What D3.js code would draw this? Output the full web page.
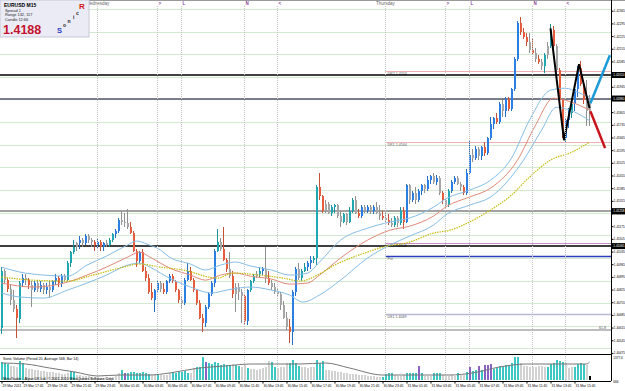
<!DOCTYPE html>
<html>
<head>
<meta charset="utf-8">
<script src="https://cdn.jsdelivr.net/npm/d3@7/dist/d3.min.js"></script>
<style>
body { margin: 0; background: #fff; }
svg { display: block; font-family: "Liberation Sans", Arial, sans-serif; }
</style>
</head>
<body>
<script>
var width = 625;
var height = 391;

// EURUSD M15 candles, one row per bar: [open, high, low, close]
var candles = [
[1.4061,1.4095,1.4058,1.4093],[1.4093,1.4094,1.4086,1.4088],[1.4088,1.4089,1.4081,1.4083],[1.4083,1.4085,1.4074,1.4077],[1.4077,1.4082,1.4070,1.4072],
[1.4072,1.4074,1.4056,1.4067],[1.4066,1.4087,1.4064,1.4086],[1.4086,1.4091,1.4084,1.4089],[1.4089,1.4091,1.4085,1.4088],[1.4088,1.4089,1.4083,1.4085],
[1.4085,1.4087,1.4073,1.4082],[1.4082,1.4087,1.4081,1.4086],[1.4086,1.4088,1.4081,1.4083],[1.4083,1.4087,1.4081,1.4085],[1.4085,1.4086,1.4080,1.4082],
[1.4082,1.4086,1.4080,1.4084],[1.4084,1.4088,1.4078,1.4082],[1.4082,1.4088,1.4081,1.4087],[1.4087,1.4091,1.4085,1.4089],[1.4089,1.4090,1.4084,1.4086],
[1.4086,1.4091,1.4084,1.4090],[1.4090,1.4091,1.4087,1.4088],[1.4088,1.4098,1.4087,1.4097],[1.4097,1.4104,1.4095,1.4103],[1.4103,1.4110,1.4102,1.4106],
[1.4106,1.4109,1.4104,1.4108],[1.4108,1.4112,1.4105,1.4110],[1.4110,1.4111,1.4106,1.4108],[1.4108,1.4113,1.4107,1.4112],[1.4112,1.4113,1.4108,1.4110],
[1.4110,1.4111,1.4106,1.4109],[1.4109,1.4110,1.4104,1.4107],[1.4107,1.4111,1.4105,1.4109],[1.4109,1.4110,1.4104,1.4106],[1.4106,1.4109,1.4104,1.4108],
[1.4108,1.4110,1.4106,1.4107],[1.4107,1.4111,1.4106,1.4110],[1.4110,1.4114,1.4109,1.4113],[1.4113,1.4116,1.4111,1.4115],[1.4115,1.4122,1.4114,1.4121],
[1.4121,1.4126,1.4118,1.4120],[1.4120,1.4125,1.4117,1.4119],[1.4119,1.4127,1.4116,1.4117],[1.4117,1.4120,1.4113,1.4114],[1.4114,1.4115,1.4103,1.4104],
[1.4104,1.4105,1.4095,1.4098],[1.4098,1.4104,1.4097,1.4103],[1.4103,1.4105,1.4092,1.4093],[1.4093,1.4095,1.4087,1.4089],[1.4089,1.4091,1.4080,1.4081],
[1.4081,1.4086,1.4077,1.4078],[1.4077,1.4083,1.4070,1.4082],[1.4082,1.4087,1.4081,1.4086],[1.4086,1.4087,1.4081,1.4083],[1.4083,1.4086,1.4080,1.4081],
[1.4081,1.4088,1.4080,1.4087],[1.4087,1.4091,1.4086,1.4090],[1.4090,1.4091,1.4086,1.4087],[1.4087,1.4088,1.4081,1.4082],[1.4082,1.4083,1.4075,1.4077],
[1.4077,1.4079,1.4072,1.4075],[1.4075,1.4089,1.4074,1.4088],[1.4088,1.4097,1.4087,1.4093],[1.4093,1.4095,1.4087,1.4088],[1.4088,1.4089,1.4081,1.4082],
[1.4082,1.4083,1.4074,1.4075],[1.4075,1.4077,1.4066,1.4067],[1.4067,1.4069,1.4059,1.4064],[1.4064,1.4074,1.4062,1.4073],[1.4073,1.4081,1.4072,1.4080],
[1.4080,1.4087,1.4079,1.4086],[1.4086,1.4105,1.4084,1.4104],[1.4104,1.4116,1.4103,1.4109],[1.4109,1.4111,1.4104,1.4105],[1.4105,1.4117,1.4098,1.4099],
[1.4099,1.4100,1.4092,1.4094],[1.4094,1.4103,1.4089,1.4090],[1.4090,1.4093,1.4078,1.4080],[1.4080,1.4086,1.4070,1.4084],[1.4084,1.4086,1.4077,1.4081],
[1.4081,1.4083,1.4064,1.4079],[1.4079,1.4080,1.4063,1.4065],[1.4065,1.4083,1.4063,1.4082],[1.4082,1.4088,1.4081,1.4087],[1.4087,1.4091,1.4086,1.4090],
[1.4090,1.4093,1.4089,1.4091],[1.4091,1.4095,1.4089,1.4093],[1.4093,1.4095,1.4090,1.4094],[1.4094,1.4106,1.4086,1.4089],[1.4089,1.4093,1.4085,1.4086],
[1.4086,1.4088,1.4082,1.4084],[1.4084,1.4086,1.4080,1.4081],[1.4081,1.4083,1.4079,1.4080],[1.4080,1.4081,1.4071,1.4074],[1.4074,1.4076,1.4066,1.4067],
[1.4067,1.4070,1.4060,1.4062],[1.4062,1.4066,1.4053,1.4059],[1.4059,1.4082,1.4052,1.4081],[1.4081,1.4095,1.4079,1.4094],[1.4094,1.4097,1.4088,1.4089],
[1.4089,1.4094,1.4087,1.4093],[1.4093,1.4097,1.4092,1.4095],[1.4095,1.4098,1.4093,1.4097],[1.4097,1.4101,1.4094,1.4099],[1.4099,1.4101,1.4097,1.4100],
[1.4100,1.4140,1.4096,1.4139],[1.4139,1.4147,1.4132,1.4134],[1.4134,1.4135,1.4125,1.4126],[1.4126,1.4132,1.4125,1.4130],[1.4130,1.4131,1.4124,1.4125],
[1.4125,1.4129,1.4123,1.4128],[1.4128,1.4130,1.4125,1.4129],[1.4129,1.4130,1.4122,1.4123],[1.4123,1.4126,1.4117,1.4120],[1.4120,1.4125,1.4119,1.4124],
[1.4124,1.4125,1.4118,1.4120],[1.4120,1.4128,1.4119,1.4126],[1.4126,1.4133,1.4125,1.4132],[1.4132,1.4134,1.4124,1.4125],[1.4125,1.4127,1.4122,1.4123],
[1.4123,1.4129,1.4122,1.4128],[1.4128,1.4129,1.4125,1.4126],[1.4126,1.4129,1.4125,1.4128],[1.4128,1.4129,1.4124,1.4126],[1.4126,1.4129,1.4124,1.4128],
[1.4128,1.4131,1.4124,1.4125],[1.4125,1.4129,1.4121,1.4123],[1.4123,1.4126,1.4121,1.4122],[1.4122,1.4125,1.4120,1.4121],[1.4121,1.4124,1.4118,1.4119],
[1.4119,1.4122,1.4117,1.4118],[1.4118,1.4123,1.4117,1.4122],[1.4122,1.4123,1.4117,1.4119],[1.4119,1.4128,1.4118,1.4126],[1.4126,1.4128,1.4116,1.4120],
[1.4120,1.4141,1.4119,1.4140],[1.4140,1.4141,1.4130,1.4132],[1.4132,1.4137,1.4131,1.4136],[1.4136,1.4139,1.4130,1.4132],[1.4132,1.4138,1.4131,1.4137],
[1.4137,1.4141,1.4135,1.4140],[1.4140,1.4141,1.4136,1.4138],[1.4138,1.4145,1.4137,1.4143],[1.4143,1.4146,1.4141,1.4145],[1.4145,1.4147,1.4141,1.4142],
[1.4142,1.4146,1.4140,1.4144],[1.4144,1.4145,1.4135,1.4136],[1.4136,1.4137,1.4130,1.4132],[1.4132,1.4133,1.4127,1.4129],[1.4129,1.4138,1.4128,1.4137],
[1.4137,1.4143,1.4136,1.4142],[1.4142,1.4145,1.4141,1.4144],[1.4144,1.4145,1.4140,1.4141],[1.4141,1.4142,1.4137,1.4139],[1.4139,1.4140,1.4135,1.4136],
[1.4136,1.4149,1.4135,1.4147],[1.4147,1.4165,1.4146,1.4157],[1.4157,1.4160,1.4153,1.4155],[1.4155,1.4162,1.4154,1.4160],[1.4160,1.4161,1.4154,1.4156],
[1.4156,1.4162,1.4154,1.4161],[1.4161,1.4164,1.4156,1.4158],[1.4158,1.4167,1.4157,1.4166],[1.4166,1.4178,1.4165,1.4174],[1.4174,1.4178,1.4171,1.4177],
[1.4177,1.4180,1.4174,1.4175],[1.4175,1.4186,1.4174,1.4185],[1.4185,1.4187,1.4178,1.4181],[1.4181,1.4189,1.4178,1.4188],[1.4188,1.4189,1.4181,1.4182],
[1.4182,1.4194,1.4181,1.4193],[1.4193,1.4211,1.4192,1.4210],[1.4210,1.4231,1.4209,1.4230],[1.4230,1.4233,1.4223,1.4225],[1.4225,1.4227,1.4221,1.4222],
[1.4222,1.4224,1.4217,1.4219],[1.4219,1.4224,1.4213,1.4215],[1.4215,1.4221,1.4212,1.4213],[1.4213,1.4216,1.4208,1.4210],[1.4210,1.4212,1.4207,1.4208],
[1.4208,1.4210,1.4204,1.4206],[1.4206,1.4213,1.4202,1.4212],[1.4212,1.4219,1.4210,1.4217],[1.4217,1.4229,1.4216,1.4226],[1.4226,1.4228,1.4216,1.4217],
[1.4217,1.4218,1.4203,1.4204],[1.4204,1.4205,1.4186,1.4187],[1.4187,1.4188,1.4166,1.4168],[1.4166,1.4177,1.4164,1.4176],[1.4176,1.4183,1.4172,1.4182],
[1.4180,1.4186,1.4177,1.4185],[1.4185,1.4194,1.4181,1.4193],[1.4193,1.4206,1.4189,1.4205],[1.4205,1.4209,1.4195,1.4196],[1.4196,1.4198,1.4185,1.4187],
[1.4187,1.4198,1.4173,1.4181],[1.4181,1.4190,1.4173,1.4188]
];
// candle colour class per bar: t teal, b blue, r red, g grey
var candleKind = "tgrggrtbgrgbgbgbgbbrbgtttgbgbggrbrbgttbbgggrrrbrrrrbbgrbbrrrgbbrrrrrbbbbtgrrgrgggrbttgtbgrggggggrbbgttbbttrrggttggtgttgrbgbgbggrgrgtgtrbgbgbbgbbgbgrgtbbggrbbgbgbrbbbrbgbrbbbrrrgrgrgtgtrgrrbbtbbrrgg";

// Sonic volume per bar and its colour class: t above average, g below, p climax
var volumes = [
1030,980,900,820,780,740,1100,1000,700,660, 640,600,580,540,520,480,470,440,420,390,
370,340,380,540,480,300,280,250,230,210, 190,170,150,130,120,150,170,200,230,380,
600,420,400,440,470,430,400,450,420,330, 310,360,300,280,260,270,420,450,430,480,
460,520,380,420,700,760,720,1340,1020,960, 900,1050,980,850,900,860,800,920,860,780,
760,850,700,650,620,600,640,680,720,1090, 1040,760,700,720,740,980,1000,1150,950,780,
760,720,700,740,760,1160,1000,1100,600,560, 520,500,470,440,420,400,370,350,330,310,
290,280,250,230,210,200,190,170,360,380, 400,260,240,250,270,420,400,380,410,800,
390,250,230,220,400,420,380,260,240,250, 260,240,420,300,280,440,760,520,550,820,
560,840,880,900,620,700,820,760,880,800, 950,1330,1300,1000,820,780,760,740,720,800,
780,740,760,900,1000,1150,1080,1040,1000,700, 760,740,900,950,900,880,250
];
var volumeKind = "tttgggttgggggggggggggggttgggggggggggggggtpttttttttggtggggttttttggtttpttttttttgttggtgggggggttggggttttgggggtttgggggggggggggggggggttttggggttttptgggtttgggggtggtpttptppptttttttttgggggggggttttttgggttttg";
// volume average line: [bar, volume]
var volumeAvg = [[0,976],[8,918],[16,689],[24.5,459],[32,230],[39.5,287],[49.5,287],[56,402],[66,689],[74.5,804],[83,918],[91,918],[99.5,918],[108,976],[116,689],[127,287],[136,287],[149.5,287],[157,402],[166,746],[175,918],[186,918],[195,918],[196,1033]];

// price channel lines: [bar, price]
var upperBand = [[0,1.40949],[6,1.40922],[14,1.40905],[22,1.40899],[28.5,1.40960],[35,1.41010],[42,1.41071],[45,1.41093],[48.5,1.41076],[53,1.41043],[56,1.41004],[63,1.40966],[68,1.40933],[73,1.40960],[78,1.40977],[83,1.40955],[90,1.40933],[96,1.40905],[102,1.40916],[106,1.40977],[113,1.41098],[122,1.41164],[129.5,1.41198],[136,1.41220],[144,1.41280],[148.5,1.41330],[156,1.41374],[163,1.41429],[170,1.41551],[176,1.41761],[183,1.41926],[188,1.41937],[192,1.41915],[196,1.41887]];
var middleLine = [[0,1.40861],[10.5,1.40839],[22,1.40866],[28.5,1.40905],[35,1.40949],[42,1.41004],[46,1.41032],[49.5,1.41004],[53,1.40971],[56,1.40944],[63,1.40905],[68,1.40877],[73,1.40905],[78,1.40916],[83,1.40899],[90,1.40883],[96,1.40855],[102,1.40861],[106,1.40905],[113,1.40999],[122,1.41098],[129.5,1.41153],[136,1.41175],[144,1.41231],[148.5,1.41286],[156,1.41336],[163,1.41385],[172,1.41540],[178,1.41733],[184,1.41882],[190,1.41860],[196,1.41816]];
var lowerBand = [[0,1.40806],[6,1.40784],[14,1.40778],[22,1.40822],[28.5,1.40861],[35,1.40905],[42,1.40960],[46,1.40971],[49.5,1.40949],[53,1.40916],[56,1.40888],[63,1.40839],[70,1.40806],[75,1.40822],[83,1.40839],[90,1.40822],[96,1.40795],[100.5,1.40756],[106,1.40795],[113,1.40877],[122,1.40999],[129.5,1.41071],[136,1.41120],[144,1.41181],[148.5,1.41242],[156,1.41291],[163,1.41336],[174,1.41540],[180,1.41705],[185,1.41832],[190,1.41813],[196,1.41758]];
var slowLine = [[0,1.40894],[10.5,1.40877],[22,1.40872],[30.5,1.40905],[39.5,1.40944],[46,1.40966],[53,1.40949],[60.5,1.40933],[72,1.40888],[77,1.40916],[86,1.40905],[94,1.40888],[99.5,1.40872],[106,1.40911],[110.5,1.40955],[122,1.41032],[127,1.41059],[136,1.41087],[144,1.41137],[149.5,1.41153],[156,1.41198],[163,1.41264],[170,1.41347],[176,1.41446],[183,1.41540],[190,1.41583],[196,1.41639]];

var zigzag = [[183,1.42268],[187.5,1.41650],[192.5,1.42070],[196,1.41827]];
var projectionUp = [[196.3,1.41854],[202.8,1.42119]];
var projectionDown = [[196.3,1.41810],[201.2,1.41606]];

// horizontal levels across the whole chart, the first four tagged on the price scale
var levelPrices = [1.42010, 1.41880, 1.41258, 1.41065, 1.40601];
var levelTags = ["1.42010", "1.41880", "1.41258", "1.41065"];
var fiboLabel = "61.8";

// daily pivots drawn from the start of Thursday
var pivotPrices = [1.4203, 1.4164, 1.4108, 1.4101, 1.4069];
var pivotLabels = ["DR2  1.4203", "DR1  1.4164", "DOL  1.4108", "Pvt", "DS1  1.4069"];

var gridPrices = [1.4050,1.40625,1.4075,1.40875,1.4100,1.41125,1.4125,1.41375,1.4150,1.41625,1.4175,1.41875,1.4200,1.42125,1.4225,1.42375];
var priceTicks = [1.42365,1.42295,1.42225,1.42155,1.42085,1.42015,1.41945,1.41875,1.41805,1.41735,1.41665,1.41595,1.41525,1.41455,1.41385,1.41315,1.41245,1.41175,1.41105,1.41035,1.40965,1.40895,1.40825,1.40755,1.40685,1.40615,1.40545,1.40475];

var timeTickIdx = [0,7,15,23,31,39,47,55,63,71,79,87,95,103,111,119,127,135,143,151,159,167,175,183,191];
var timeLabels = ["29 Mar 2011","29 Mar 17:45","29 Mar 19:45","29 Mar 21:45","29 Mar 23:45","30 Mar 01:45","30 Mar 03:45","30 Mar 05:45","30 Mar 07:45","30 Mar 09:45","30 Mar 11:45","30 Mar 13:45","30 Mar 15:45","30 Mar 17:45","30 Mar 19:45","30 Mar 21:45","30 Mar 23:45","31 Mar 01:45","31 Mar 03:45","31 Mar 05:45","31 Mar 07:45","31 Mar 09:45","31 Mar 11:45","31 Mar 13:45","31 Mar 15:45"];

var dayIdx = [32, 128];
var dayNames = ["Wednesday", "Thursday"];
var sessionOffsets = [20, 28, 49, 60];
var sessionMarks = [">", "L", "N", "<"];

var infoLines = ["Spread  1", "Range  132, 117", "Candle  12:66"];
var bidText = "1.4188";
var volumeTitle = "Sonic Volume (Period 20, Average 568, Bar 14)";
var volumeTicks = ["1377.6", "666"];

// layout
var plotRight = 611, priceBottom = 354, volBottom = 381;
var tiny = 3.1;

var svg = d3.select("body").append("svg")
    .attr("width", width)
    .attr("height", height);

var x = d3.scaleLinear().domain([0, 1]).range([1.5, 4.5]);
var y = d3.scaleLinear().domain([1.4069, 1.4164]).range([314, 142]);
var yVol = d3.scaleLinear().domain([0, 1377.6]).range([380, 356]);

svg.append("clipPath").attr("id", "pc").append("rect")
    .attr("width", plotRight).attr("height", priceBottom);
var plot = svg.append("g").attr("clip-path", "url(#pc)");

function py(p) { return Math.round(y(p)) + 0.5; }

// grid
plot.append("g").selectAll("line").data(gridPrices).enter().append("line")
    .attr("x1", 0).attr("x2", plotRight)
    .attr("y1", py).attr("y2", py)
    .attr("stroke", "#d3ead0");

var sessionLines = [];
dayIdx.forEach(function (d) {
    sessionLines.push(d);
    sessionOffsets.forEach(function (o) { sessionLines.push(d + o); });
});
svg.append("g").selectAll("line").data(sessionLines).enter().append("line")
    .attr("x1", function (d) { return x(d); }).attr("x2", function (d) { return x(d); })
    .attr("y1", 6).attr("y2", volBottom)
    .attr("stroke", "#c4c4c4").attr("stroke-dasharray", "1,1");

// pivots
var pivotColors = ["#eeb0b0", "#eeb0b0", "#c890c8", "#2c3cc0", "#b8b8d6"];
var pivotWidths = [1, 1, 1.2, 1.6, 1.6];
plot.append("g").selectAll("line").data(pivotPrices).enter().append("line")
    .attr("x1", x(dayIdx[1])).attr("x2", plotRight)
    .attr("y1", py).attr("y2", py)
    .attr("stroke", function (d, i) { return pivotColors[i]; })
    .attr("stroke-width", function (d, i) { return pivotWidths[i]; });
plot.append("g").selectAll("text").data(pivotPrices).enter().append("text")
    .attr("x", x(dayIdx[1]) + 2).attr("y", function (d) { return py(d) + 3.8; })
    .attr("font-size", 3.6).attr("fill", "#555")
    .text(function (d, i) { return pivotLabels[i]; });

// full width levels
var levelColors = ["#000", "#54546c", "#444", "#000", "#bdbdbd"];
var levelWidths = [1.3, 1.6, 1, 1.3, 2];
plot.append("g").selectAll("line").data(levelPrices).enter().append("line")
    .attr("x1", 0).attr("x2", plotRight)
    .attr("y1", function (d) { return Math.round(y(d)); }).attr("y2", function (d) { return Math.round(y(d)); })
    .attr("stroke", function (d, i) { return levelColors[i]; })
    .attr("stroke-width", function (d, i) { return levelWidths[i]; });
plot.append("text").attr("x", 599).attr("y", y(levelPrices[4]) - 1.5)
    .attr("font-size", 3.6).attr("fill", "#555").text(fiboLabel);

// candles
var kindColor = { t: "#1fa7b2", b: "#2b7fe2", r: "#e65d3e", g: "#a6a6a6" };
var cg = plot.append("g").attr("shape-rendering", "crispEdges");
cg.selectAll("line").data(candles).enter().append("line")
    .attr("x1", function (d, i) { return x(i); }).attr("x2", function (d, i) { return x(i); })
    .attr("y1", function (d) { return y(d[1]); }).attr("y2", function (d) { return y(d[2]); })
    .attr("stroke", function (d, i) { return d3.color(kindColor[candleKind[i]]).darker(0.4); });
cg.selectAll("rect").data(candles).enter().append("rect")
    .attr("x", function (d, i) { return x(i) - 1; })
    .attr("width", 2)
    .attr("y", function (d) { return y(Math.max(d[0], d[3])); })
    .attr("height", function (d) { return Math.max(1, Math.abs(y(d[0]) - y(d[3]))); })
    .attr("fill", function (d, i) { return kindColor[candleKind[i]]; });

// channel lines
var line = d3.line()
    .x(function (d) { return x(d[0]); })
    .y(function (d) { return y(d[1]); })
    .curve(d3.curveMonotoneX);
plot.append("path").datum(upperBand).attr("d", line).attr("fill", "none").attr("stroke", "#86bde6");
plot.append("path").datum(lowerBand).attr("d", line).attr("fill", "none").attr("stroke", "#86bde6");
plot.append("path").datum(middleLine).attr("d", line).attr("fill", "none").attr("stroke", "#e08878");
plot.append("path").datum(slowLine).attr("d", line).attr("fill", "none")
    .attr("stroke", "#c4bc10").attr("stroke-width", 1.2).attr("stroke-dasharray", "1.5,1");

var straight = d3.line().x(function (d) { return x(d[0]); }).y(function (d) { return y(d[1]); });
plot.append("path").datum(zigzag).attr("d", straight).attr("fill", "none")
    .attr("stroke", "#000").attr("stroke-width", 2);
svg.append("path").datum(projectionUp).attr("d", straight).attr("fill", "none")
    .attr("stroke", "#1c9ad8").attr("stroke-width", 2.5);
svg.append("path").datum(projectionDown).attr("d", straight).attr("fill", "none")
    .attr("stroke", "#c8141a").attr("stroke-width", 2.5);

// top session row
svg.append("line").attr("x1", 0).attr("x2", width).attr("y1", 0.5).attr("y2", 0.5).attr("stroke", "#9a9a9a");
svg.append("g").selectAll("text").data(dayIdx).enter().append("text")
    .attr("x", function (d) { return x(d); }).attr("y", 5)
    .attr("text-anchor", "middle").attr("font-size", 4.5).attr("fill", "#666")
    .text(function (d, i) { return dayNames[i]; });
var marks = [];
dayIdx.forEach(function (d) {
    sessionOffsets.forEach(function (o, k) { marks.push({ i: d + o, t: sessionMarks[k] }); });
});
svg.append("g").selectAll("text").data(marks).enter().append("text")
    .attr("x", function (d) { return x(d.i) + 1; }).attr("y", 5)
    .attr("font-size", 4.5).attr("font-weight", "bold").attr("fill", "#8a3c9c")
    .text(function (d) { return d.t; });

// info box
var box = svg.append("g");
box.append("rect").attr("x", 0).attr("y", 0).attr("width", 89).attr("height", 37)
    .attr("fill", "#ebebf5").attr("stroke", "#c8c8d8");
box.append("text").attr("x", 4).attr("y", 7).attr("font-size", 5).attr("font-weight", "bold").text("EURUSD  M15");
box.selectAll("text.info").data(infoLines).enter().append("text")
    .attr("x", 5).attr("y", function (d, i) { return 12 + i * 4.3; })
    .attr("font-size", 3.9).attr("fill", "#222").text(function (d) { return d; });
box.append("text").attr("x", 3).attr("y", 33.5).attr("font-size", 12.5).attr("font-weight", "bold")
    .attr("fill", "#c4112c").text(bidText);
var sonic = [["S", 57, 33, 7.5, "#2a3cc0"], ["o", 63, 27, 5, "#222"], ["n", 67.5, 23, 5, "#222"],
             ["i", 73, 19, 5, "#222"], ["c", 76, 15, 5, "#222"], ["R", 79, 9, 8, "#d01818"]];
box.selectAll("text.s").data(sonic).enter().append("text")
    .attr("x", function (d) { return d[1]; }).attr("y", function (d) { return d[2]; })
    .attr("font-size", function (d) { return d[3]; }).attr("font-weight", "bold")
    .attr("fill", function (d) { return d[4]; }).text(function (d) { return d[0]; });

// price scale
var axisR = d3.axisRight(y).tickValues(priceTicks).tickFormat(d3.format(".5f")).tickSize(2);
var ga = svg.append("g").attr("transform", "translate(" + (plotRight + 0.5) + ",0)").call(axisR);
ga.select(".domain").remove();
ga.selectAll("text").attr("x", 2.3).attr("font-size", tiny).attr("font-family", "Liberation Sans");
svg.append("line").attr("x1", plotRight + 0.5).attr("x2", plotRight + 0.5).attr("y1", 0).attr("y2", volBottom).attr("stroke", "#000");

var tags = svg.append("g").selectAll("g").data(levelTags).enter().append("g");
tags.append("rect").attr("x", plotRight + 1).attr("width", width - plotRight)
    .attr("y", function (d, i) { return y(levelPrices[i]) - 3; }).attr("height", 6).attr("fill", "#000");
tags.append("text").attr("x", plotRight + 2.3).attr("y", function (d, i) { return y(levelPrices[i]) + 1.2; })
    .attr("font-size", tiny).attr("fill", "#fff").text(function (d) { return d; });

// volume pane
svg.append("line").attr("x1", 0).attr("x2", plotRight).attr("y1", priceBottom + 0.5).attr("y2", priceBottom + 0.5).attr("stroke", "#000");
svg.append("line").attr("x1", 0).attr("x2", plotRight).attr("y1", volBottom + 0.5).attr("y2", volBottom + 0.5).attr("stroke", "#000");
var volColor = { t: "#3cc6c4", g: "#d2d2d2", p: "#8a62c2" };
svg.append("g").attr("shape-rendering", "crispEdges").selectAll("rect").data(volumes).enter().append("rect")
    .attr("x", function (d, i) { return x(i) - 1; }).attr("width", 2)
    .attr("y", function (d) { return yVol(d); })
    .attr("height", function (d) { return yVol(0) - yVol(d); })
    .attr("fill", function (d, i) { return volColor[volumeKind[i]]; });
var vline = d3.line().x(function (d) { return x(d[0]); }).y(function (d) { return yVol(d[1]); }).curve(d3.curveMonotoneX);
svg.append("path").datum(volumeAvg).attr("d", vline).attr("fill", "none").attr("stroke", "#777");
svg.append("text").attr("x", 3).attr("y", 360).attr("font-size", 3.6).text(volumeTitle);
svg.append("text").attr("x", 3).attr("y", 379.5).attr("font-size", 3.6).text("MetaTrader - Alpari UK Ltd. \u00a9 2001-2010 MetaQuotes Software Corp.");
svg.append("text").attr("x", 613.3).attr("y", 358.5).attr("font-size", tiny).text(volumeTicks[0]);
svg.append("text").attr("x", 613.3).attr("y", 383).attr("font-size", tiny).text(volumeTicks[1]);

// time scale
var axisB = d3.axisBottom(x).tickValues(timeTickIdx)
    .tickFormat(function (d, i) { return timeLabels[i]; }).tickSize(2);
var gb = svg.append("g").attr("transform", "translate(0," + (volBottom + 0.5) + ")").call(axisB);
gb.select(".domain").remove();
gb.selectAll("text").attr("text-anchor", "start").attr("x", 0.5).attr("y", 3).attr("font-size", 3.4)
    .attr("font-family", "Liberation Sans");
</script>
</body>
</html>
